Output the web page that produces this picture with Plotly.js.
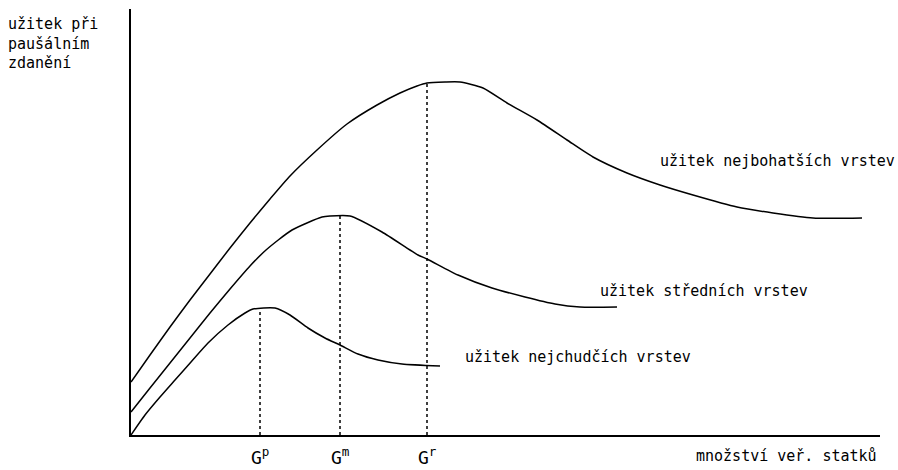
<!DOCTYPE html>
<html>
<head>
<meta charset="utf-8">
<script src="https://cdn.plot.ly/plotly-3.0.1.min.js"></script>
<style>html,body{margin:0;padding:0;background:#fff;}#chart{width:898px;height:470px;}</style>
</head>
<body>
<div id="chart"></div>
<script>
// Quantity of public goods (x) and utility (y)
const richX = [0,19,39,59,79,99,119,139,159,186,216,246,269,286,296,314,329,352,376,406,436,462,496,529,562,606,642,682,731];
const richY = [53,80,108,135,161,187,212,236,259,285,311,330,342,349,352,353,353,347,332,315,295,278,262,250,240,228,222,217,217];

const midX = [0,19,39,59,79,99,119,135,161,191,199,219,251,287,296,327,361,394,424,449,486];
const midY = [23,47,72,97,122,146,169,185,205,218,219,219,203,180,176,160,147,138,131,128,128];

const poorX = [0,14,29,44,60,77,97,114,122,144,159,177,194,209,227,247,271,309];
const poorY = [0,20,38,55,73,92,110,122,126,127,120,107,97,90,81,75,71,69];

const optimumX = [129, 209, 296];
const optimumY = [127, 219, 352];
const optimumLabels = ['G<sup>p</sup>', 'G<sup>m</sup>', 'G<sup>r</sup>'];

const curveLabels = ['užitek nejchudčích vrstev', 'užitek středních vrstev', 'užitek nejbohatších vrstev'];
const curveLabelX = [332, 467, 527];
const curveLabelY = [78, 144, 274];

const yTitle = 'užitek při<br>paušálním<br>zdanění';
const xTitle = 'množství veř. statků';

const font = {family: 'DejaVu Sans Mono, monospace', size: 15, color: '#000'};
const lineStyle = {color: '#000', width: 1.5, shape: 'spline', smoothing: 0.6};

const traces = [
  {x: poorX, y: poorY, mode: 'lines', line: lineStyle, hoverinfo: 'skip'},
  {x: midX, y: midY, mode: 'lines', line: lineStyle, hoverinfo: 'skip'},
  {x: richX, y: richY, mode: 'lines', line: lineStyle, hoverinfo: 'skip'}
];
optimumX.forEach((gx, i) => {
  traces.push({x: [gx, gx], y: [0, optimumY[i]], mode: 'lines',
    line: {color: '#000', width: 1.5, dash: 'dot'}, hoverinfo: 'skip'});
});

const annotations = [];
curveLabels.forEach((t, i) => {
  annotations.push({x: curveLabelX[i], y: curveLabelY[i], xref: 'x', yref: 'y', text: t,
    showarrow: false, xanchor: 'left', yanchor: 'middle', font: font});
});
optimumLabels.forEach((t, i) => {
  annotations.push({x: optimumX[i], y: -0.05, xref: 'x', yref: 'paper', text: t,
    showarrow: false, xanchor: 'center', yanchor: 'middle', font: {...font, size: 18}});
});
annotations.push({x: 0.999, y: -0.049, xref: 'paper', yref: 'paper', text: xTitle, showarrow: false,
  xanchor: 'right', yanchor: 'middle', font: font});
annotations.push({x: -0.167, y: 0.918, xref: 'paper', yref: 'paper', text: yTitle, showarrow: false,
  xanchor: 'left', yanchor: 'middle', align: 'left', font: font});

const layout = {
  width: 898, height: 470,
  margin: {l: 131, r: 18, t: 9, b: 35, pad: 0},
  paper_bgcolor: '#fff', plot_bgcolor: '#fff',
  showlegend: false,
  xaxis: {range: [0, 749], showgrid: false, zeroline: false, showticklabels: false, ticks: '',
    showline: true, linecolor: '#000', linewidth: 2, fixedrange: true},
  yaxis: {range: [0, 426], showgrid: false, zeroline: false, showticklabels: false, ticks: '',
    showline: true, linecolor: '#000', linewidth: 2, fixedrange: true},
  annotations: annotations
};

Plotly.newPlot('chart', traces, layout, {displayModeBar: false, staticPlot: true});
</script>
</body>
</html>
